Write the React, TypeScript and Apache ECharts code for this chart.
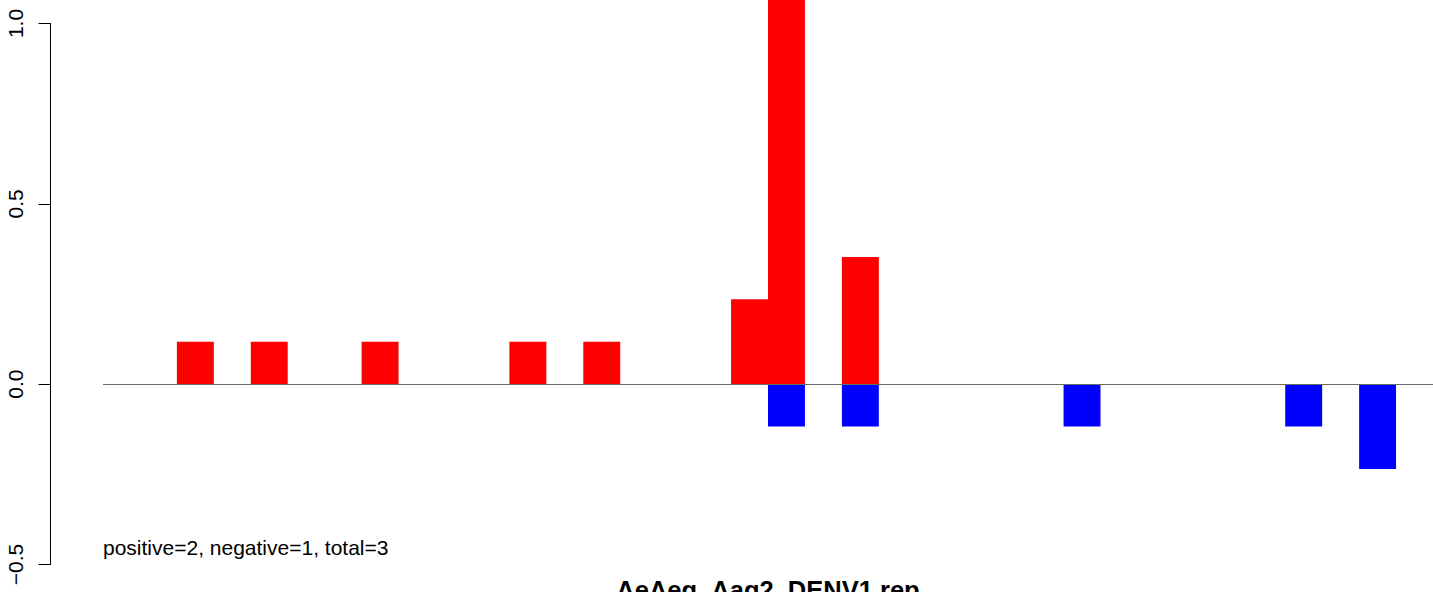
import React, { useEffect, useRef } from "react";
import * as echarts from "echarts";

const slots: string[] = Array.from({ length: 36 }, (_, i) => String(i + 1));
const redSlots = [2, 4, 7, 11, 13, 17, 18, 20];
const redValues = [0.1176, 0.1176, 0.1176, 0.1176, 0.1176, 0.2353, 1.1765, 0.3529];
const blueSlots = [18, 20, 26, 32, 34];
const blueValues = [-0.1176, -0.1176, -0.1176, -0.1176, -0.2353];
const yTicks = [-0.5, 0, 0.5, 1.0];
const noteText = "positive=2, negative=1, total=3";
const titleText = "AeAeg_Aag2_DENV1.rep";

const FONT = "'Liberation Sans', Arial, Helvetica, sans-serif";

function toSeries(idx: number[], vals: number[]): (number | string)[] {
  const arr: (number | string)[] = slots.map(() => "-");
  idx.forEach((s, k) => {
    arr[s] = vals[k];
  });
  return arr;
}

export default function App() {
  const ref = useRef<HTMLDivElement>(null);
  useEffect(() => {
    if (!ref.current) return;
    const chart = echarts.init(ref.current, null, { renderer: "svg" });
    const H = 592;
    const yTopPx = 23.5;
    const yBotPx = 564.5;
    const pxPerUnit = (yBotPx - yTopPx) / (yTicks[yTicks.length - 1] - yTicks[0]);
    const mainMax = yTicks[yTicks.length - 1] + yTopPx / pxPerUnit;
    chart.setOption({
      animation: false,
      grid: [
        { left: 103, right: 0, top: 0, bottom: H - yBotPx, containLabel: false },
        { left: 50.5, width: 1, top: yTopPx, bottom: H - yBotPx, containLabel: false },
      ],
      xAxis: [
        { type: "category", gridIndex: 0, data: slots, show: false },
        { type: "value", gridIndex: 1, show: false, min: 0, max: 1 },
      ],
      yAxis: [
        { type: "value", gridIndex: 0, min: yTicks[0], max: mainMax, show: false },
        {
          type: "value",
          gridIndex: 1,
          min: yTicks[0],
          max: yTicks[yTicks.length - 1],
          interval: 0.5,
          splitLine: { show: false },
          axisLine: { show: true, lineStyle: { color: "#000", width: 1 } },
          axisTick: { show: true, length: 12, lineStyle: { color: "#000", width: 1 } },
          axisLabel: {
            rotate: 90,
            margin: 25,
            color: "#000",
            fontSize: 21,
            fontFamily: FONT,
            formatter: (v: number) => (v < 0 ? "\u2212" + Math.abs(v).toFixed(1) : v.toFixed(1)),
          },
        },
      ],
      series: [
        {
          type: "bar",
          xAxisIndex: 0,
          yAxisIndex: 0,
          data: toSeries(redSlots, redValues),
          itemStyle: { color: "#ff0000" },
          barCategoryGap: "0%",
          barGap: "-100%",
          clip: true,
          markLine: {
            symbol: "none",
            silent: true,
            label: { show: false },
            lineStyle: { color: "#6b6b6b", width: 1, type: "solid" },
            data: [{ yAxis: 0 }],
          },
        },
        {
          type: "bar",
          xAxisIndex: 0,
          yAxisIndex: 0,
          data: toSeries(blueSlots, blueValues),
          itemStyle: { color: "#0000ff" },
          barCategoryGap: "0%",
          barGap: "-100%",
          clip: true,
        },
      ],
      graphic: [
        {
          type: "text",
          x: 103,
          y: 547,
          style: {
            text: noteText,
            fill: "#000",
            fontSize: 21,
            fontFamily: FONT,
            textAlign: "left",
            textVerticalAlign: "middle",
          },
        },
        {
          type: "text",
          x: 768,
          y: 577,
          style: {
            text: titleText,
            fill: "#000",
            fontSize: 25.5,
            fontWeight: "bold",
            fontFamily: FONT,
            textAlign: "center",
            textVerticalAlign: "top",
          },
        },
      ],
    });
    return () => chart.dispose();
  }, []);
  return (
    <div
      ref={ref}
      style={{ position: "fixed", left: 0, top: 0, width: 1433, height: 592, background: "#fff" }}
    />
  );
}
